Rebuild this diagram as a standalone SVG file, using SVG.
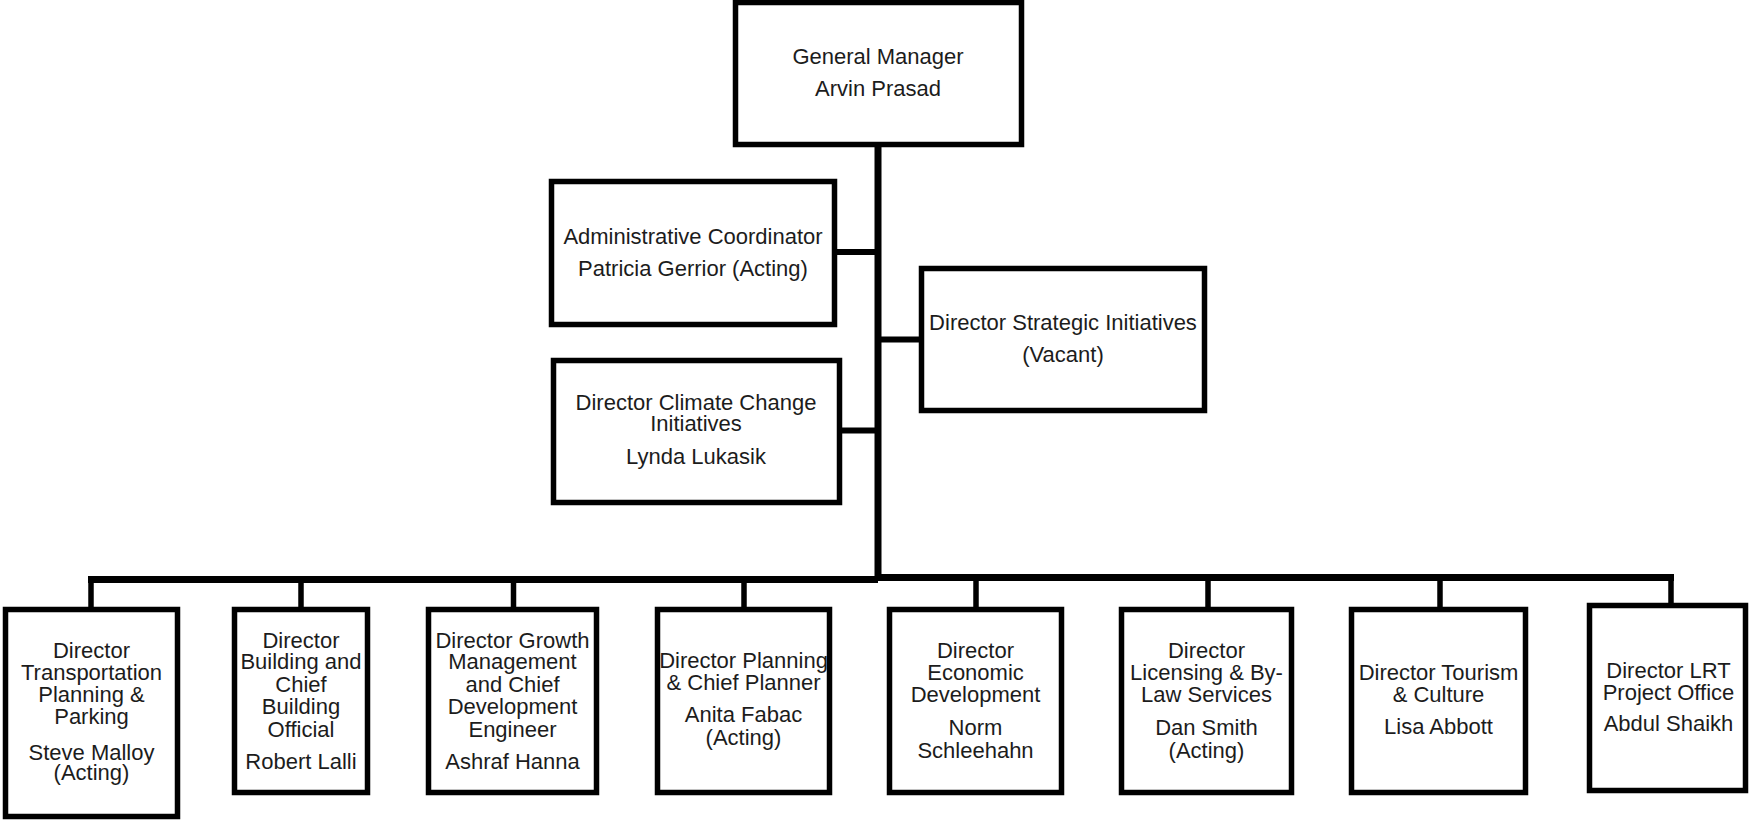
<svg xmlns="http://www.w3.org/2000/svg" width="1749" height="820" viewBox="0 0 1749 820">
<style>
.box{fill:#fff;stroke:#000;stroke-width:5.5}
.ln{stroke:#000;fill:none;stroke-linecap:butt}
text{font-family:"Liberation Sans",Arial,sans-serif;font-size:22px;fill:#1c1c1c;text-anchor:middle}
</style>
<rect width="1749" height="820" fill="#fff"/>
<g id="connectors">
<line class="ln" x1="878" y1="145" x2="878" y2="581" stroke-width="7"/>
<line class="ln" x1="836" y1="252" x2="878" y2="252" stroke-width="6"/>
<line class="ln" x1="878" y1="339.5" x2="920" y2="339.5" stroke-width="6"/>
<line class="ln" x1="840" y1="430.5" x2="878" y2="430.5" stroke-width="6"/>
<path class="ln" d="M88 579.5H878" stroke-width="7"/>
<path class="ln" d="M878 577.5H1674" stroke-width="7"/>
<line class="ln" x1="91" y1="579" x2="91" y2="608" stroke-width="5.5"/>
<line class="ln" x1="301" y1="579" x2="301" y2="608" stroke-width="5.5"/>
<line class="ln" x1="513.5" y1="579" x2="513.5" y2="608" stroke-width="5.5"/>
<line class="ln" x1="744" y1="579" x2="744" y2="608" stroke-width="5.5"/>
<line class="ln" x1="976" y1="577" x2="976" y2="608" stroke-width="5.5"/>
<line class="ln" x1="1208" y1="577" x2="1208" y2="608" stroke-width="5.5"/>
<line class="ln" x1="1440" y1="577" x2="1440" y2="608" stroke-width="5.5"/>
<line class="ln" x1="1671" y1="577" x2="1671" y2="604" stroke-width="5.5"/>
</g>
<g id="gm">
<rect class="box" x="735.5" y="2.5" width="286" height="142"/>
<text x="878" y="63.5">General Manager</text>
<text x="878" y="95.5">Arvin Prasad</text>
</g>
<g id="admin">
<rect class="box" x="551.5" y="181.5" width="283" height="143"/>
<text x="693" y="243.5">Administrative Coordinator</text>
<text x="693" y="275.5">Patricia Gerrior (Acting)</text>
</g>
<g id="strategic">
<rect class="box" x="921.5" y="268.5" width="283" height="142"/>
<text x="1063" y="329.5">Director Strategic Initiatives</text>
<text x="1063" y="361.5">(Vacant)</text>
</g>
<g id="climate">
<rect class="box" x="553.5" y="360.5" width="286" height="142"/>
<text x="696" y="410">Director Climate Change</text>
<text x="696" y="431">Initiatives</text>
<text x="696" y="463.5">Lynda Lukasik</text>
</g>
<g id="transportation">
<rect class="box" x="5.5" y="609.5" width="172" height="207"/>
<text x="91.5" y="657.5">Director</text>
<text x="91.5" y="679.5">Transportation</text>
<text x="91.5" y="702">Planning &amp;</text>
<text x="91.5" y="724">Parking</text>
<text x="91.5" y="759.5">Steve Malloy</text>
<text x="91.5" y="780">(Acting)</text>
</g>
<g id="building">
<rect class="box" x="234.5" y="609.5" width="133" height="183"/>
<text x="301" y="647.5">Director</text>
<text x="301" y="669">Building and</text>
<text x="301" y="691.5">Chief</text>
<text x="301" y="714">Building</text>
<text x="301" y="737">Official</text>
<text x="301" y="768.5">Robert Lalli</text>
</g>
<g id="growth">
<rect class="box" x="428.5" y="609.5" width="168" height="183"/>
<text x="512.5" y="647.5">Director Growth</text>
<text x="512.5" y="669">Management</text>
<text x="512.5" y="691.5">and Chief</text>
<text x="512.5" y="714">Development</text>
<text x="512.5" y="737">Engineer</text>
<text x="512.5" y="768.5">Ashraf Hanna</text>
</g>
<g id="planning">
<rect class="box" x="657.5" y="609.5" width="172" height="183"/>
<text x="743.5" y="667.5">Director Planning</text>
<text x="743.5" y="689.5">&amp; Chief Planner</text>
<text x="743.5" y="722">Anita Fabac</text>
<text x="743.5" y="745">(Acting)</text>
</g>
<g id="economic">
<rect class="box" x="889.5" y="609.5" width="172" height="183"/>
<text x="975.5" y="657.5">Director</text>
<text x="975.5" y="679.5">Economic</text>
<text x="975.5" y="702">Development</text>
<text x="975.5" y="735">Norm</text>
<text x="975.5" y="757.5">Schleehahn</text>
</g>
<g id="licensing">
<rect class="box" x="1121.5" y="609.5" width="170" height="183"/>
<text x="1206.5" y="657.5">Director</text>
<text x="1206.5" y="679.5">Licensing &amp; By-</text>
<text x="1206.5" y="702">Law Services</text>
<text x="1206.5" y="735">Dan Smith</text>
<text x="1206.5" y="757.5">(Acting)</text>
</g>
<g id="tourism">
<rect class="box" x="1351.5" y="609.5" width="174" height="183"/>
<text x="1438.5" y="679.5">Director Tourism</text>
<text x="1438.5" y="701.5">&amp; Culture</text>
<text x="1438.5" y="733.5">Lisa Abbott</text>
</g>
<g id="lrt">
<rect class="box" x="1589.5" y="605.5" width="156" height="185"/>
<text x="1668.5" y="677.5">Director LRT</text>
<text x="1668.5" y="699.5">Project Office</text>
<text x="1668.5" y="731">Abdul Shaikh</text>
</g>
</svg>
